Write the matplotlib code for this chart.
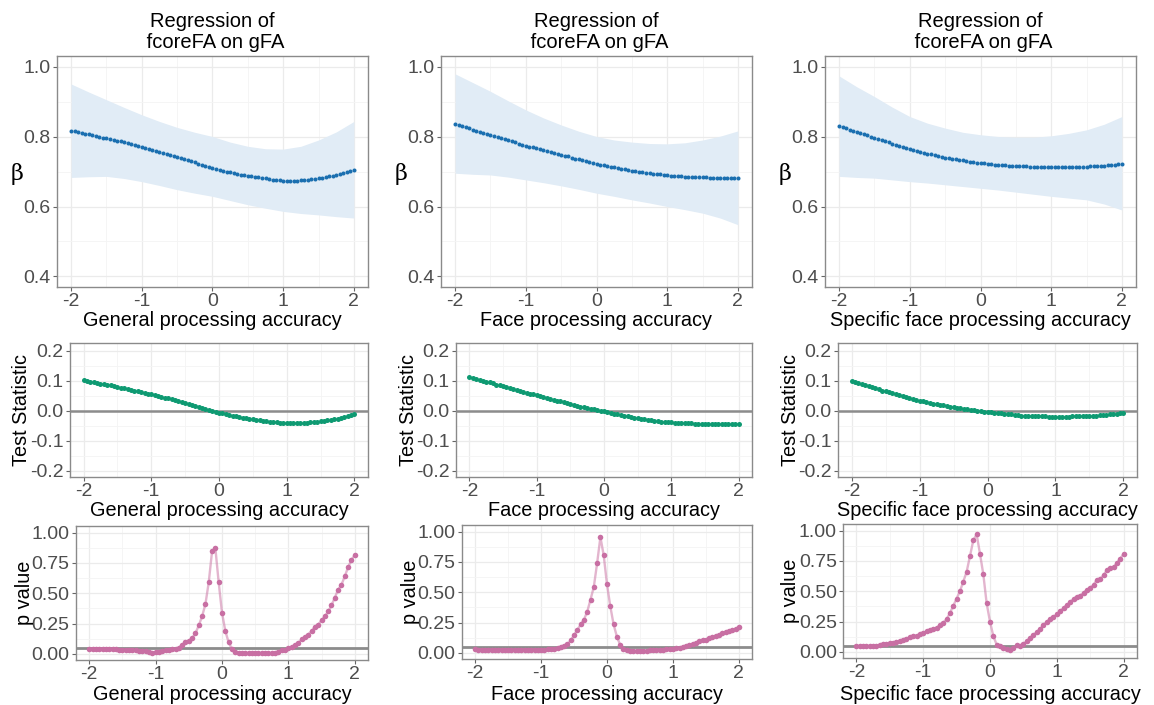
import numpy as np
import matplotlib.pyplot as plt
from matplotlib.ticker import FixedLocator, FormatStrFormatter

plt.rcParams['font.family'] = ['Liberation Sans', 'DejaVu Sans']
plt.rcParams['axes.unicode_minus'] = False

# moderator grid (-2 .. 2, step 0.05) and coarser grid for the CI band
moderator = np.round(np.linspace(-2, 2, 81), 2)
ci_x = np.round(np.linspace(-2, 2, 17), 2)

xlabels = ['General processing accuracy', 'Face processing accuracy',
           'Specific face processing accuracy']

# ---- beta estimates ----
beta_general = [
    0.817, 0.815, 0.813, 0.811, 0.808, 0.806, 0.804, 0.802, 0.800, 0.797,
    0.795, 0.793, 0.790, 0.788, 0.786, 0.783, 0.781, 0.778, 0.776, 0.773,
    0.771, 0.768, 0.765, 0.762, 0.760, 0.757, 0.754, 0.751, 0.748, 0.745,
    0.742, 0.739, 0.736, 0.732, 0.729, 0.726, 0.722, 0.719, 0.716, 0.713,
    0.710, 0.707, 0.705, 0.702, 0.700, 0.698, 0.695, 0.693, 0.691, 0.690,
    0.688, 0.686, 0.684, 0.683, 0.681, 0.680, 0.678, 0.677, 0.676, 0.675,
    0.674, 0.674, 0.674, 0.674, 0.674, 0.675, 0.676, 0.677, 0.678, 0.679,
    0.681, 0.682, 0.684, 0.686, 0.688, 0.690, 0.693, 0.696, 0.699, 0.702,
    0.705]
beta_face = [
    0.835, 0.832, 0.829, 0.826, 0.823, 0.820, 0.817, 0.814, 0.811, 0.808,
    0.805, 0.802, 0.798, 0.795, 0.792, 0.789, 0.786, 0.783, 0.780, 0.777,
    0.774, 0.771, 0.769, 0.766, 0.763, 0.761, 0.758, 0.756, 0.753, 0.751,
    0.748, 0.745, 0.743, 0.740, 0.737, 0.735, 0.732, 0.730, 0.727, 0.725,
    0.722, 0.720, 0.718, 0.716, 0.714, 0.712, 0.710, 0.708, 0.706, 0.704,
    0.702, 0.701, 0.699, 0.698, 0.696, 0.695, 0.694, 0.693, 0.692, 0.690,
    0.689, 0.688, 0.687, 0.687, 0.686, 0.685, 0.685, 0.684, 0.684, 0.683,
    0.683, 0.683, 0.682, 0.682, 0.682, 0.682, 0.681, 0.681, 0.681, 0.681,
    0.681]
beta_specific = [
    0.830, 0.826, 0.823, 0.820, 0.816, 0.813, 0.810, 0.806, 0.803, 0.800,
    0.797, 0.793, 0.790, 0.787, 0.783, 0.780, 0.777, 0.774, 0.770, 0.767,
    0.764, 0.761, 0.759, 0.756, 0.754, 0.751, 0.749, 0.747, 0.745, 0.742,
    0.740, 0.738, 0.737, 0.735, 0.733, 0.732, 0.730, 0.728, 0.727, 0.725,
    0.724, 0.723, 0.722, 0.721, 0.720, 0.720, 0.719, 0.718, 0.717, 0.717,
    0.716, 0.716, 0.715, 0.715, 0.714, 0.714, 0.713, 0.713, 0.713, 0.712,
    0.712, 0.712, 0.712, 0.712, 0.713, 0.713, 0.713, 0.713, 0.714, 0.714,
    0.714, 0.715, 0.715, 0.716, 0.716, 0.717, 0.718, 0.719, 0.720, 0.721,
    0.722]

# ---- confidence bands ----
ci_hi_general = [0.950, 0.927, 0.905, 0.883, 0.862, 0.843, 0.826, 0.812, 0.800,
                 0.784, 0.772, 0.765, 0.764, 0.772, 0.790, 0.813, 0.843]
ci_lo_general = [0.683, 0.685, 0.686, 0.680, 0.671, 0.660, 0.648, 0.638, 0.629,
                 0.617, 0.605, 0.595, 0.586, 0.580, 0.576, 0.571, 0.567]
ci_hi_face = [0.979, 0.954, 0.929, 0.902, 0.876, 0.853, 0.833, 0.815, 0.800,
              0.790, 0.784, 0.780, 0.779, 0.782, 0.790, 0.801, 0.816]
ci_lo_face = [0.695, 0.692, 0.690, 0.684, 0.676, 0.668, 0.659, 0.649, 0.638,
              0.629, 0.619, 0.610, 0.600, 0.591, 0.581, 0.567, 0.548]
ci_hi_specific = [0.973, 0.942, 0.914, 0.884, 0.857, 0.838, 0.824, 0.812, 0.805,
                  0.800, 0.798, 0.798, 0.802, 0.809, 0.819, 0.835, 0.857]
ci_lo_specific = [0.686, 0.683, 0.681, 0.676, 0.671, 0.667, 0.662, 0.657, 0.652,
                  0.647, 0.641, 0.635, 0.629, 0.624, 0.619, 0.607, 0.590]

# ---- test statistics ----
test_general = [
    0.101, 0.099, 0.097, 0.095, 0.092, 0.090, 0.088, 0.086, 0.084, 0.081,
    0.079, 0.077, 0.074, 0.072, 0.070, 0.067, 0.065, 0.062, 0.060, 0.057,
    0.055, 0.052, 0.049, 0.046, 0.044, 0.041, 0.038, 0.035, 0.032, 0.029,
    0.026, 0.023, 0.020, 0.016, 0.013, 0.010, 0.006, 0.003, 0.000, -0.003,
    -0.006, -0.009, -0.011, -0.014, -0.016, -0.018, -0.021, -0.023, -0.025, -0.026,
    -0.028, -0.030, -0.032, -0.033, -0.035, -0.036, -0.038, -0.039, -0.040, -0.041,
    -0.042, -0.042, -0.042, -0.042, -0.042, -0.041, -0.040, -0.039, -0.038, -0.037,
    -0.035, -0.034, -0.032, -0.030, -0.028, -0.026, -0.023, -0.020, -0.017, -0.014,
    -0.011]
test_face = [
    0.112, 0.109, 0.106, 0.103, 0.100, 0.097, 0.094, 0.091, 0.087, 0.084,
    0.081, 0.078, 0.075, 0.072, 0.069, 0.066, 0.063, 0.060, 0.057, 0.054,
    0.051, 0.048, 0.045, 0.042, 0.040, 0.037, 0.034, 0.031, 0.028, 0.025,
    0.022, 0.020, 0.017, 0.014, 0.012, 0.009, 0.007, 0.005, 0.002, 0.000,
    -0.002, -0.005, -0.007, -0.010, -0.012, -0.015, -0.017, -0.019, -0.021, -0.023,
    -0.025, -0.027, -0.029, -0.030, -0.032, -0.033, -0.035, -0.036, -0.037, -0.038,
    -0.039, -0.040, -0.040, -0.041, -0.041, -0.042, -0.042, -0.043, -0.043, -0.043,
    -0.044, -0.044, -0.044, -0.044, -0.044, -0.044, -0.044, -0.044, -0.044, -0.044,
    -0.044]
test_specific = [
    0.100, 0.096, 0.093, 0.089, 0.085, 0.082, 0.078, 0.075, 0.071, 0.067,
    0.064, 0.061, 0.058, 0.055, 0.052, 0.049, 0.046, 0.043, 0.040, 0.037,
    0.034, 0.031, 0.029, 0.026, 0.024, 0.022, 0.020, 0.018, 0.016, 0.013,
    0.011, 0.010, 0.008, 0.006, 0.005, 0.003, 0.002, 0.000, -0.001, -0.003,
    -0.004, -0.005, -0.007, -0.008, -0.009, -0.010, -0.011, -0.012, -0.013, -0.015,
    -0.016, -0.016, -0.017, -0.017, -0.018, -0.018, -0.019, -0.019, -0.020, -0.020,
    -0.020, -0.020, -0.020, -0.020, -0.020, -0.019, -0.019, -0.019, -0.018, -0.018,
    -0.018, -0.017, -0.016, -0.015, -0.014, -0.013, -0.012, -0.011, -0.010, -0.009,
    -0.008]

# ---- p values ----
p_general = [
    0.044, 0.043, 0.043, 0.042, 0.041, 0.040, 0.039, 0.038, 0.037, 0.036,
    0.036, 0.035, 0.034, 0.032, 0.030, 0.028, 0.026, 0.022, 0.012, 0.006,
    0.012, 0.020, 0.025, 0.030, 0.034, 0.038, 0.043, 0.052, 0.075, 0.095,
    0.110, 0.130, 0.170, 0.235, 0.310, 0.410, 0.590, 0.845, 0.872, 0.590,
    0.340, 0.190, 0.095, 0.040, 0.018, 0.010, 0.006, 0.005, 0.004, 0.004,
    0.005, 0.004, 0.004, 0.004, 0.004, 0.005, 0.010, 0.020, 0.030, 0.035,
    0.045, 0.060, 0.070, 0.090, 0.120, 0.140, 0.160, 0.190, 0.225, 0.240,
    0.280, 0.310, 0.350, 0.400, 0.465, 0.530, 0.570, 0.640, 0.715, 0.775,
    0.815]
p_face = [
    0.030, 0.028, 0.026, 0.024, 0.025, 0.026, 0.026, 0.027, 0.027, 0.027,
    0.027, 0.026, 0.025, 0.024, 0.026, 0.028, 0.028, 0.027, 0.027, 0.026,
    0.026, 0.027, 0.029, 0.032, 0.036, 0.042, 0.050, 0.060, 0.070, 0.105,
    0.145, 0.190, 0.235, 0.275, 0.340, 0.440, 0.545, 0.740, 0.955, 0.805,
    0.565, 0.385, 0.235, 0.135, 0.065, 0.035, 0.022, 0.017, 0.015, 0.016,
    0.018, 0.019, 0.020, 0.021, 0.022, 0.023, 0.024, 0.026, 0.029, 0.033,
    0.036, 0.038, 0.042, 0.048, 0.055, 0.063, 0.072, 0.085, 0.095, 0.103,
    0.110, 0.122, 0.132, 0.138, 0.152, 0.162, 0.172, 0.180, 0.190, 0.198,
    0.210]
p_specific = [
    0.047, 0.047, 0.047, 0.047, 0.047, 0.047, 0.050, 0.055, 0.062, 0.065,
    0.070, 0.075, 0.080, 0.090, 0.100, 0.110, 0.125, 0.130, 0.135, 0.145,
    0.160, 0.170, 0.180, 0.190, 0.200, 0.220, 0.240, 0.270, 0.320, 0.380,
    0.440, 0.500, 0.580, 0.660, 0.790, 0.920, 0.970, 0.810, 0.640, 0.400,
    0.250, 0.130, 0.060, 0.045, 0.035, 0.022, 0.020, 0.030, 0.055, 0.050,
    0.065, 0.090, 0.115, 0.140, 0.165, 0.190, 0.220, 0.250, 0.270, 0.290,
    0.310, 0.335, 0.365, 0.385, 0.410, 0.440, 0.455, 0.465, 0.490, 0.510,
    0.530, 0.555, 0.595, 0.600, 0.635, 0.675, 0.695, 0.700, 0.735, 0.770,
    0.810]

betas = [beta_general, beta_face, beta_specific]
ci_his = [ci_hi_general, ci_hi_face, ci_hi_specific]
ci_los = [ci_lo_general, ci_lo_face, ci_lo_specific]
tests = [test_general, test_face, test_specific]
pvals = [p_general, p_face, p_specific]

W, H = 1154, 705
fig = plt.figure(figsize=(W / 100, H / 100), dpi=100)

# panel boxes in pixels: (left, top, right, bottom)
boxes = [
    [(57, 56, 368, 287), (441, 56, 752, 287), (825, 56, 1136, 287)],
    [(70, 343, 368, 477), (456, 343, 752, 477), (838, 343, 1137, 477)],
    [(76, 526, 368, 660), (462, 525, 752, 659), (843, 524, 1137, 658)],
]

TXT = '#4d4d4d'
FS = 14


def make_ax(box):
    l, t, r, b = box
    return fig.add_axes([l / W, 1 - b / H, (r - l) / W, (b - t) / H])


def style(ax, ylim, major, minor, fmt):
    ax.set_xlim(-2.2, 2.2)
    ax.set_ylim(*ylim)
    ax.xaxis.set_major_locator(FixedLocator([-2, -1, 0, 1, 2]))
    ax.xaxis.set_minor_locator(FixedLocator([-1.5, -0.5, 0.5, 1.5]))
    ax.yaxis.set_major_locator(FixedLocator(major))
    ax.yaxis.set_minor_locator(FixedLocator(minor))
    ax.yaxis.set_major_formatter(FormatStrFormatter(fmt))
    ax.grid(True, which='major', color='#ebebeb', lw=0.9, zorder=0)
    ax.grid(True, which='minor', color='#f4f4f4', lw=0.6, zorder=0)
    ax.set_axisbelow(True)
    ax.tick_params(which='major', length=3, width=0.8, color='#666666',
                   labelsize=FS, labelcolor=TXT, pad=1.5)
    ax.tick_params(which='minor', length=0)
    for s in ax.spines.values():
        s.set_color('#8a8a8a')
        s.set_linewidth(1.0)


for j in range(3):
    # row 1: beta with CI band
    ax = make_ax(boxes[0][j])
    ax.fill_between(ci_x, ci_los[j], ci_his[j], color='#e1ecf6', lw=0, zorder=1)
    ax.plot(moderator, betas[j], 'o', ms=2.9, color='#1a6fb0', mec='none', zorder=3)
    style(ax, (0.37, 1.03), [0.4, 0.6, 0.8, 1.0], [0.5, 0.7, 0.9], '%.1f')
    l, t, r, b = boxes[0][j]
    fig.text((l + r) / 2 / W, 1 - 32 / H, 'Regression of\n fcoreFA on gFA',
             ha='center', va='center', fontsize=14.5, linespacing=1.1)
    fig.text((l - 40) / W, 1 - 174 / H, 'β', ha='center', va='center',
             fontsize=16, family='DejaVu Serif')
    fig.text((l + r) / 2 / W, 1 - 320 / H, xlabels[j], ha='center',
             va='center', fontsize=FS + 0.3)

    # row 2: test statistic
    ax = make_ax(boxes[1][j])
    ax.axhline(0, color='#8c8c8c', lw=1.8, zorder=2)
    ax.plot(moderator, tests[j], 'o', ms=3.6, color='#0e9a72', mec='none', zorder=3)
    style(ax, (-0.22, 0.225), [-0.2, -0.1, 0.0, 0.1, 0.2],
          [-0.15, -0.05, 0.05, 0.15], '%.1f')
    l, t, r, b = boxes[1][j]
    fig.text((l - 48) / W, 1 - (t + b) / 2 / H, 'Test Statistic', ha='center',
             va='center', rotation=90, fontsize=FS + 0.3)
    fig.text((l + r) / 2 / W, 1 - 511 / H, xlabels[j], ha='center',
             va='center', fontsize=FS + 0.3)

    # row 3: p value
    ax = make_ax(boxes[2][j])
    ax.axhline(0.05, color='#8c8c8c', lw=2.0, zorder=2)
    ax.plot(moderator, pvals[j], '-', lw=1.7, color='#cc79a7', alpha=0.55, zorder=3)
    ax.plot(moderator, pvals[j], 'o', ms=4.0, color='#c86fa3', mec='none', zorder=4)
    style(ax, (-0.05, 1.055), [0.0, 0.25, 0.5, 0.75, 1.0],
          [0.125, 0.375, 0.625, 0.875], '%.2f')
    l, t, r, b = boxes[2][j]
    fig.text((l - 52) / W, 1 - (t + b) / 2 / H, 'p value', ha='center',
             va='center', rotation=90, fontsize=FS + 0.3)
    fig.text((l + r) / 2 / W, 1 - 694.5 / H, xlabels[j], ha='center',
             va='center', fontsize=FS + 0.3)

fig.savefig('out.png', dpi=100)
